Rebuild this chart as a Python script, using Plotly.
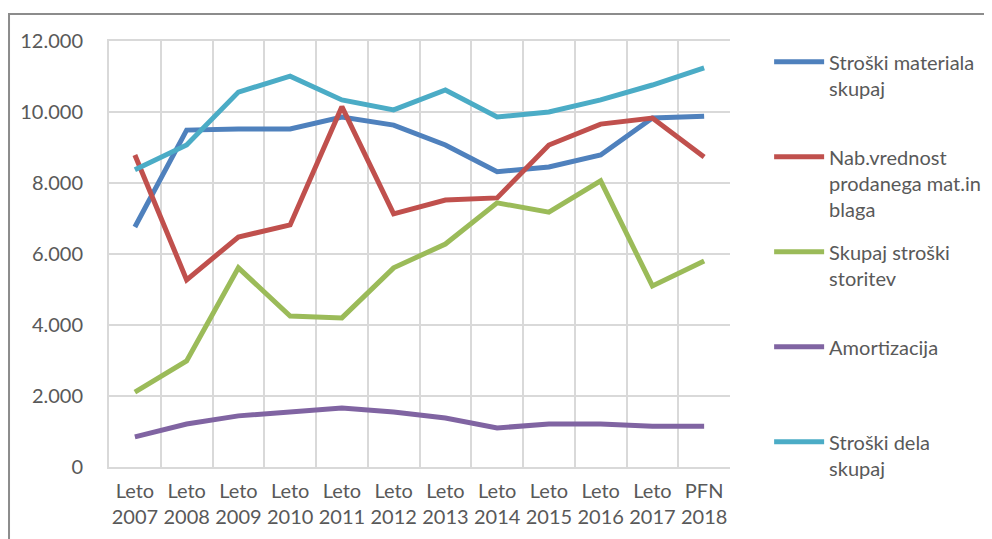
import plotly.graph_objects as go

categories = ["Leto<br>2007", "Leto<br>2008", "Leto<br>2009", "Leto<br>2010", "Leto<br>2011", "Leto<br>2012",
              "Leto<br>2013", "Leto<br>2014", "Leto<br>2015", "Leto<br>2016", "Leto<br>2017", "PFN<br>2018"]

stroski_materiala = [6760, 9490, 9520, 9520, 9860, 9630, 9070, 8320, 8450, 8790, 9830, 9880]
nab_vrednost = [8790, 5270, 6480, 6820, 10150, 7130, 7520, 7580, 9070, 9660, 9830, 8730]
stroski_storitev = [2110, 2990, 5610, 4250, 4200, 5610, 6280, 7440, 7180, 8060, 5100, 5800]
amortizacija = [850, 1210, 1440, 1550, 1660, 1550, 1380, 1100, 1210, 1210, 1150, 1150]
stroski_dela = [8370, 9070, 10560, 11010, 10340, 10060, 10620, 9860, 10000, 10340, 10760, 11240]

series_names = [
    "Stroški materiala<br>skupaj<br>\u00a0",
    "Nab.vrednost<br>prodanega mat.in<br>blaga",
    "Skupaj stroški<br>storitev<br>\u00a0",
    "Amortizacija<br>\u00a0<br>\u00a0",
    "Stroški dela<br>skupaj",
]
series_values = [stroski_materiala, nab_vrednost, stroski_storitev, amortizacija, stroski_dela]
series_colors = ["#4F81BD", "#C0504D", "#9BBB59", "#8064A2", "#4BACC6"]

FONT = "Lato, Open Sans, sans-serif"
TXT = "#595959"

fig = go.Figure()
for i, (name, vals, col) in enumerate(zip(series_names, series_values, series_colors)):
    fig.add_trace(go.Scatter(
        x=categories, y=vals, name=name, mode="lines",
        line=dict(color=col, width=5), legendgroup=f"g{i}",
    ))

fig.update_layout(
    width=992, height=539,
    margin=dict(l=101, r=270, t=33, b=80, autoexpand=False),
    paper_bgcolor="white", plot_bgcolor="white",
    separators=",.",
    font=dict(family=FONT, size=20, color=TXT),
    showlegend=True,
    legend=dict(
        x=1.063, xanchor="left", y=0.997, yanchor="top",
        valign="top", tracegroupgap=14, itemwidth=50, maxheight=539,
        font=dict(family=FONT, size=20, color=TXT),
        bgcolor="rgba(0,0,0,0)",
    ),
    xaxis=dict(
        type="category", tickson="boundaries", showgrid=True,
        gridcolor="#D9D9D9", gridwidth=2,
        showline=True, linecolor="#D9D9D9", linewidth=2,
        ticks="", tickangle=0, automargin=False, ticklabelstandoff=5,
        tickfont=dict(family=FONT, size=20, color=TXT),
        range=[-0.5, 11.5], mirror=True,
    ),
    yaxis=dict(
        range=[0, 12000], dtick=2000, tickformat=",d",
        showgrid=True, gridcolor="#D9D9D9", gridwidth=2,
        showline=True, linecolor="#D9D9D9", linewidth=2,
        zeroline=False, ticks="", ticklabelstandoff=20, automargin=False,
        tickfont=dict(family=FONT, size=20, color=TXT),
    ),
    shapes=[dict(
        type="rect", xref="paper", yref="paper",
        x0=-0.161, x1=1.43, y0=-0.18, y1=1.0634,
        line=dict(color="#8C8C8C", width=2), layer="below",
    )],
)

fig.write_html("out.html")
